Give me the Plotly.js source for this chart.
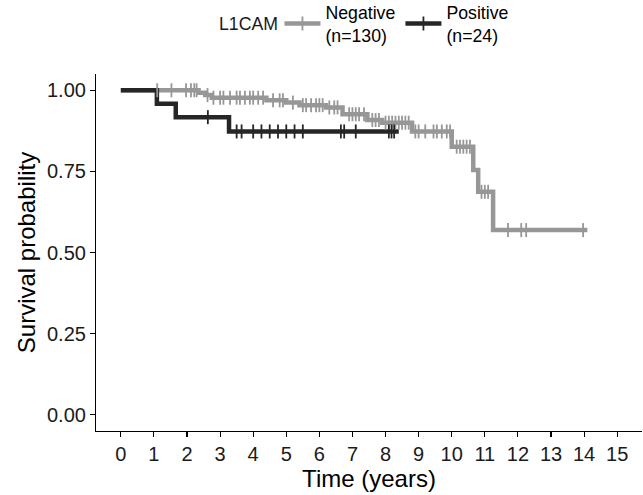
<!DOCTYPE html>
<html><head><meta charset="utf-8">
<script src="https://cdn.plot.ly/plotly-3.0.1.min.js"></script>
<style>html,body{margin:0;padding:0;background:#fff}#chart{width:643px;height:495px}</style>
</head><body><div id="chart"></div><script>
// Negative (n=130): step times and survival
const negTimes = [0, 2.35, 2.55, 2.75, 4.4, 5.0, 5.4, 6.2, 6.7, 7.45, 7.9, 8.8, 10.0, 10.65, 10.8, 11.25];
const negSurv  = [1.0, 0.992, 0.985, 0.977, 0.969, 0.962, 0.954, 0.947, 0.926, 0.908, 0.900, 0.873, 0.826, 0.754, 0.687, 0.569];
const negEnd = 14.1;
const negCensor = [1.1, 1.53, 1.97, 2.12, 2.22, 2.29, 2.62, 2.8, 3.0, 3.1, 3.3, 3.5, 3.6, 3.75, 3.9, 4.0, 4.15, 4.3,
  4.6, 4.8, 4.9, 5.2, 5.5, 5.6, 5.75, 5.9, 6.0, 6.1, 6.3, 6.45, 6.55, 6.9, 7.0, 7.1, 7.2, 7.35, 7.6, 7.7, 7.8,
  8.0, 8.1, 8.2, 8.3, 8.4, 8.5, 8.6, 8.7, 8.9, 9.0, 9.2, 9.45, 9.55, 9.7, 9.85, 9.95, 10.15, 10.25, 10.35, 10.45,
  10.55, 10.9, 11.0, 11.1, 11.7, 12.1, 12.25, 13.97];
// Positive (n=24)
const posTimes = [0, 1.09, 1.66, 3.27];
const posSurv  = [1.0, 0.958, 0.917, 0.873];
const posEnd = 8.4;
const posCensor = [2.63, 3.5, 3.65, 4.0, 4.25, 4.5, 4.75, 5.0, 5.25, 5.5, 6.65, 6.75, 7.1, 8.1, 8.18, 8.26];

const legendTitle = 'L1CAM';
const groupNames = ['Negative<br>(n=130)', 'Positive<br>(n=24)'];
const groupColors = ['#979797', '#262626'];
const xTicks = [0,1,2,3,4,5,6,7,8,9,10,11,12,13,14,15];
const yTicks = [0, 0.25, 0.5, 0.75, 1];

function survAt(times, surv, t){
  let s = surv[0];
  for (let i=0;i<times.length;i++){ if (times[i] <= t) s = surv[i]; }
  return s;
}
function curve(times, surv, end, color){
  return {x: times.concat([end]), y: surv.concat([surv[surv.length-1]]), mode:'lines',
    line:{shape:'hv', color:color, width:4.5}, showlegend:false, hoverinfo:'skip'};
}
function censor(times, surv, ct, color){
  return {x: ct, y: ct.map(t=>survAt(times, surv, t)), mode:'markers',
    marker:{symbol:'line-ns', size:10, line:{color:color, width:1.8}}, showlegend:false, hoverinfo:'skip'};
}
function legendTrace(name, color){
  return {x:[null], y:[null], name:name, mode:'lines+markers', line:{color:color, width:4.5},
    marker:{symbol:'line-ns', size:10, line:{color:color, width:1.8}}};
}
const data = [
  curve(negTimes, negSurv, negEnd, groupColors[0]),
  curve(posTimes, posSurv, posEnd, groupColors[1]),
  censor(negTimes, negSurv, negCensor, groupColors[0]),
  censor(posTimes, posSurv, posCensor, groupColors[1]),
  legendTrace(groupNames[0], groupColors[0]),
  legendTrace(groupNames[1], groupColors[1])
];
const font = 'Liberation Sans, Arial, sans-serif';
const layout = {
  width:643, height:495,
  margin:{l:96, r:1, t:74, b:64, autoexpand:false},
  paper_bgcolor:'#fff', plot_bgcolor:'#fff',
  font:{family:font, color:'#000'},
  xaxis:{range:[-0.75,15.75], tickvals:xTicks, ticks:'outside', ticklen:5, tickcolor:'#000', tickwidth:1.1,
    showline:true, linecolor:'#000', linewidth:1.1, showgrid:false, zeroline:false,
    tickfont:{size:20, color:'#1a1a1a'}, title:{text:'Time (years)', font:{size:24}, standoff:0}},
  yaxis:{range:[-0.05,1.05], tickvals:yTicks, tickformat:'.2f', ticks:'outside', ticklen:5, tickcolor:'#000', tickwidth:1.1,
    showline:true, linecolor:'#000', linewidth:1.1, showgrid:false, zeroline:false,
    tickfont:{size:20, color:'#1a1a1a'}, title:{text:'Survival probability', font:{size:24}, standoff:4}},
  legend:{orientation:'h', x:0.336, xanchor:'left', y:1.14, yanchor:'middle', font:{size:17.7},
    itemwidth:36, bgcolor:'rgba(0,0,0,0)'},
  annotations:[{text:legendTitle, xref:'paper', yref:'paper', x:0.2216, y:1.14, xanchor:'left', yanchor:'middle',
    showarrow:false, font:{size:17.7, color:'#1a1a1a'}}],
  showlegend:true
};
Plotly.newPlot('chart', data, layout, {displayModeBar:false, staticPlot:true});
</script></body></html>
